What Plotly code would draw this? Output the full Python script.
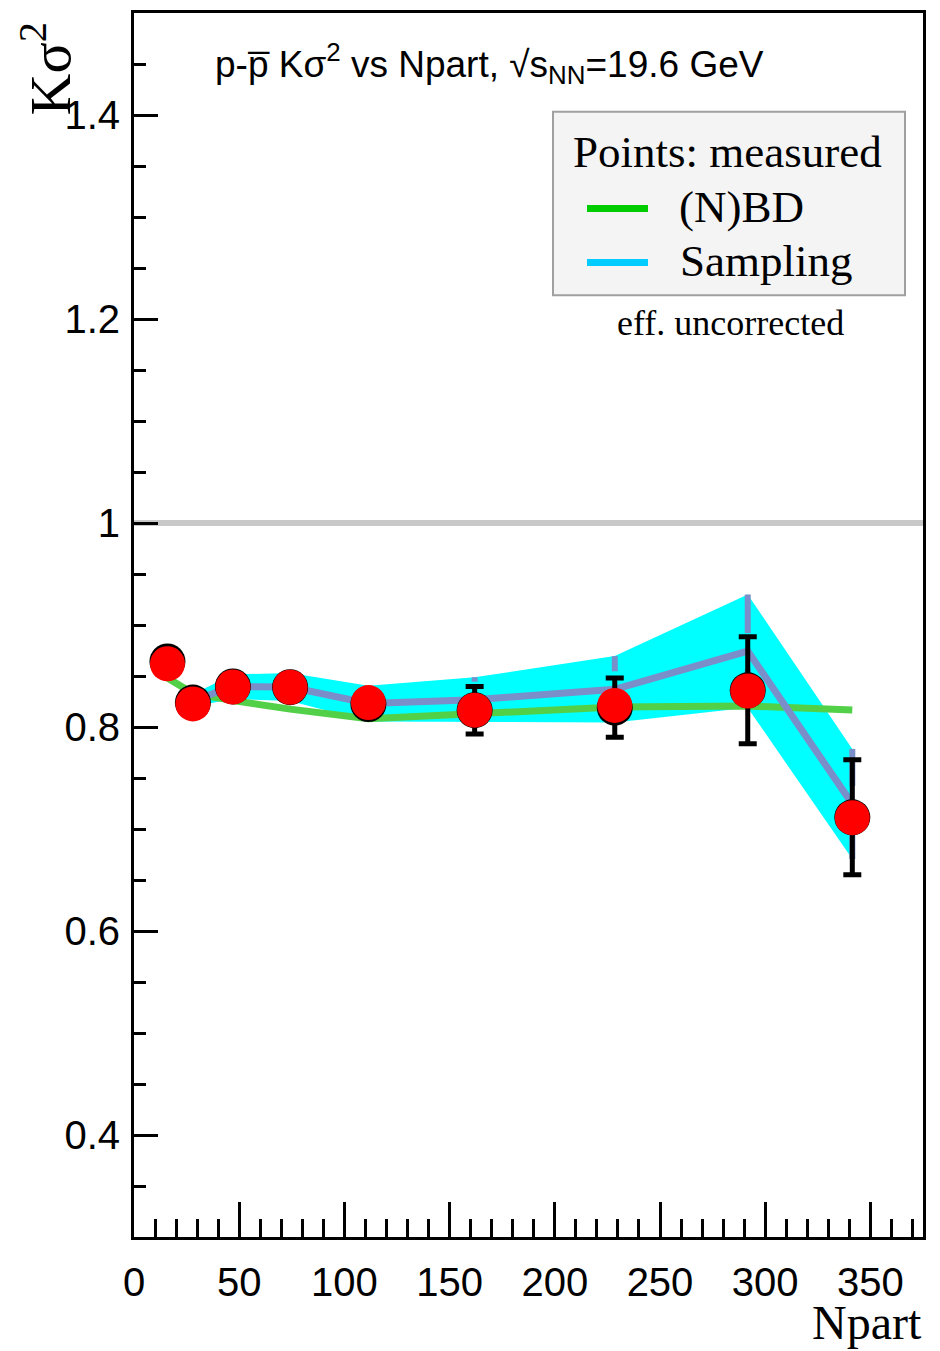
import plotly.graph_objects as go

# ---------------- data ----------------
npart = [15.9, 28.0, 47.0, 74.2, 111.4, 161.9, 228.5, 291.7, 341.4]

# measured Ksigma^2 (red markers)
ksig_red = [0.862, 0.8226, 0.8392, 0.839, 0.8239, 0.8165, 0.8212, 0.8353, 0.7111]
# measured Ksigma^2 (black markers underneath, carry the error bars)
ksig_black = [0.8643, 0.824, 0.8398, 0.839, 0.8225, 0.8165, 0.819, 0.836, 0.7115]
err_black = [0.0, 0.0, 0.0, 0.0, 0.0, 0.0233, 0.029, 0.0524, 0.0563]

# (N)BD baseline (green line)
nbd = [0.848, 0.833, 0.826, 0.8175, 0.808, 0.8135, 0.8195, 0.8206, 0.8166]

# Sampling (cyan band + slate line), starts at 2nd centrality point
npart_s = [28.0, 47.0, 74.2, 111.4, 161.9, 228.5, 291.7, 341.4]
samp = [0.826, 0.8395, 0.8392, 0.823, 0.8268, 0.837, 0.8744, 0.7245]
samp_err = [0.006, 0.012, 0.0138, 0.0175, 0.022, 0.0325, 0.0555, 0.054]

x_range = [0, 375]
y_range = [0.3, 1.5]

# ---------------- styling helpers ----------------
L, R, T, B = 134, 923, 10, 1237
W, H = R - L, B - T


def px(x):
    return (x - L) / W


def py(y):
    return (B - y) / H


SLATE = "rgb(122,143,201)"
CYAN = "#00ffff"
GREEN = "rgb(82,208,72)"
GAP = 0.0176  # marker radius in data units (error bars start outside marker)

fig = go.Figure()

# cyan band
upper = [v + e for v, e in zip(samp, samp_err)]
lower = [v - e for v, e in zip(samp, samp_err)]
fig.add_trace(go.Scatter(
    x=npart_s + npart_s[::-1], y=upper + lower[::-1],
    fill="toself", fillcolor=CYAN, line=dict(width=0), mode="lines",
    hoverinfo="skip", showlegend=False))

# slate error stubs (outside marker radius)
sx, sy = [], []
for x, v, e in zip(npart_s, samp, samp_err):
    if e > GAP:
        sx += [x, x, None, x, x, None]
        sy += [v + GAP, v + e, None, v - e, v - GAP, None]
fig.add_trace(go.Scatter(x=sx, y=sy, mode="lines",
                         line=dict(color=SLATE, width=6),
                         hoverinfo="skip", showlegend=False))

# green (N)BD line
fig.add_trace(go.Scatter(x=npart, y=nbd, mode="lines",
                         line=dict(color=GREEN, width=7),
                         showlegend=False))

# slate sampling line
fig.add_trace(go.Scatter(x=npart_s, y=samp, mode="lines",
                         line=dict(color=SLATE, width=7),
                         showlegend=False))

# black markers with error bars
fig.add_trace(go.Scatter(
    x=npart, y=ksig_black, mode="markers",
    marker=dict(color="black", size=36),
    error_y=dict(type="data", array=err_black, color="black",
                 thickness=5, width=9),
    showlegend=False))

# red markers
fig.add_trace(go.Scatter(
    x=npart, y=ksig_red, mode="markers",
    marker=dict(color="#ff0000", size=35),
    showlegend=False))

# ---------------- layout ----------------
tickfont = dict(family="Liberation Sans, Arial, sans-serif", size=40, color="black")
times = "Liberation Serif, Times New Roman, serif"

fig.update_layout(
    width=940, height=1351,
    margin=dict(l=L, r=940 - R, t=T, b=1351 - B),
    paper_bgcolor="white", plot_bgcolor="white",
    showlegend=False,
    xaxis=dict(range=x_range, showgrid=False, zeroline=False,
               showline=True, linewidth=3, linecolor="black", mirror=True,
               ticks="inside", ticklen=35, tickwidth=3, tickcolor="black",
               tick0=0, dtick=50, tickfont=tickfont, ticklabelstandoff=8,
               minor=dict(ticks="inside", ticklen=18, tickwidth=3,
                          tickcolor="black", dtick=10, tick0=0)),
    yaxis=dict(range=y_range, showgrid=False, zeroline=False,
               showline=True, linewidth=3, linecolor="black", mirror=True,
               ticks="inside", ticklen=24, tickwidth=3, tickcolor="black",
               tick0=0.4, dtick=0.2, tickfont=tickfont, ticklabelstandoff=3,
               minor=dict(ticks="inside", ticklen=12, tickwidth=3,
                          tickcolor="black", dtick=0.05, tick0=0.4)),
)

shapes = []
# reference line at 1
shapes.append(dict(type="line", xref="paper", x0=0, x1=1, yref="y", y0=1, y1=1,
                   line=dict(color="#c8c8c8", width=6), layer="below"))
# legend box
shapes.append(dict(type="rect", xref="paper", yref="paper",
                   x0=px(553), x1=px(905), y0=py(293), y1=py(109),
                   fillcolor="#f4f4f4", line=dict(color="#a0a0a0", width=2)))
shapes.append(dict(type="line", xref="paper", yref="paper",
                   x0=px(587), x1=px(648), y0=py(206), y1=py(206),
                   line=dict(color="#00cc00", width=7)))
shapes.append(dict(type="line", xref="paper", yref="paper",
                   x0=px(587), x1=px(648), y0=py(260), y1=py(260),
                   line=dict(color="#00ccff", width=7)))
fig.update_layout(shapes=shapes)

ann = []
ann.append(dict(text="Points: measured", xref="paper", yref="paper",
                x=px(571), y=py(149), xanchor="left", yanchor="middle",
                showarrow=False, font=dict(family=times, size=45, color="black")))
ann.append(dict(text="(N)BD", xref="paper", yref="paper",
                x=px(677), y=py(204), xanchor="left", yanchor="middle",
                showarrow=False, font=dict(family=times, size=45, color="black")))
ann.append(dict(text="Sampling", xref="paper", yref="paper",
                x=px(678), y=py(259), xanchor="left", yanchor="middle",
                showarrow=False, font=dict(family=times, size=45, color="black")))
ann.append(dict(text="eff. uncorrected", xref="paper", yref="paper",
                x=px(730), y=py(321), xanchor="center", yanchor="middle",
                showarrow=False, font=dict(family=times, size=36, color="black")))
# title
ann.append(dict(text="p-p\u0305 K\u03c3<sup>2</sup> vs Npart, \u221as<sub>NN</sub>=19.6 GeV",
                xref="paper", yref="paper", x=px(213), y=py(61),
                xanchor="left", yanchor="middle", showarrow=False,
                font=dict(family="Liberation Sans, Arial, sans-serif", size=37, color="black")))
# axis titles
ann.append(dict(text="K\u03c3<sup>2</sup>", xref="paper", yref="paper",
                x=px(46), y=py(18), xanchor="center", yanchor="top",
                textangle=-90, showarrow=False,
                font=dict(family=times, size=58, color="black")))
ann.append(dict(text="Npart", xref="paper", yref="paper",
                x=px(924), y=py(1351), xanchor="right", yanchor="bottom",
                showarrow=False, font=dict(family=times, size=48, color="black")))
fig.update_layout(annotations=ann)

fig.write_html("out.html")
